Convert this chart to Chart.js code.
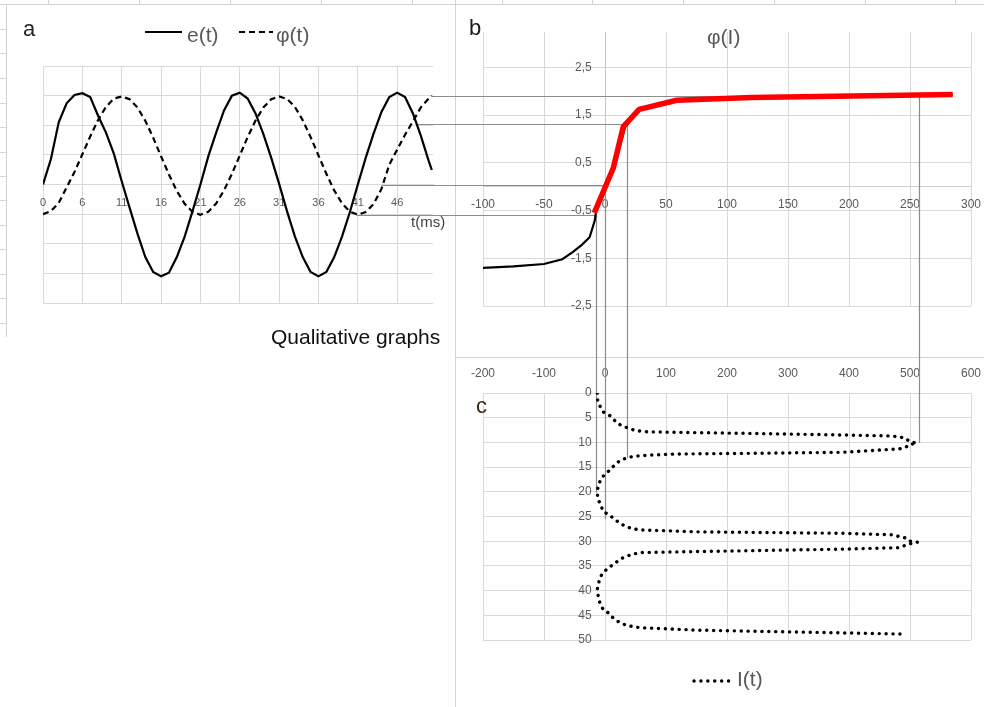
<!DOCTYPE html>
<html lang="en">
<head>
<meta charset="utf-8">
<title>Qualitative graphs</title>
<script src="https://cdn.jsdelivr.net/npm/chart.js@4.4.1/dist/chart.umd.min.js"></script>
<style>
  html, body { margin: 0; padding: 0; background: #fff; }
  #stage { position: relative; width: 984px; height: 707px; overflow: hidden; font-family: "Liberation Sans", Arial, sans-serif; }
  #stage canvas { position: absolute; }
  .cap { position: absolute; white-space: nowrap; }
</style>
</head>
<body>
<div id="stage">
  <canvas id="sheet" width="984" height="707" style="left:0;top:0"></canvas>
  <canvas id="chartA" width="455" height="345" style="left:0;top:0"></canvas>
  <canvas id="chartB" width="529" height="357" style="left:455px;top:0"></canvas>
  <canvas id="chartC" width="529" height="350" style="left:455px;top:357px"></canvas>
  <div class="cap" style="left:23px;top:18px;font-size:22px;line-height:22px;color:#262626">a</div>
  <div class="cap" style="left:469px;top:17px;font-size:22px;line-height:22px;color:#1a1a1a">b</div>
  <div class="cap" style="left:476px;top:395px;font-size:22px;line-height:22px;color:#3a2a10">c</div>
  <div class="cap" style="left:707px;top:26px;font-size:21px;line-height:21px;color:#595959">φ(I)</div>
  <div class="cap" style="left:411px;top:214px;font-size:15px;line-height:15px;color:#404040">t(ms)</div>
  <div class="cap" style="left:271px;top:326px;font-size:21px;line-height:21px;color:#111">Qualitative graphs</div>
</div>
<script>
// ---- panel a: e(t) and φ(t) on the sample index ----
const tIndex = [0,1,2,3,4,5,6,7,8,9,10,11,12,13,14,15,16,17,18,19,20,21,22,23,24,25,26,27,28,29,30,31,32,33,34,35,36,37,38,39,40,41,42,43,44,45,46,47,48,49,49.4];
const eValues = [0.00,0.85,2.10,2.74,3.02,3.08,2.95,2.32,1.75,1.04,0.11,-0.78,-1.66,-2.45,-2.95,-3.10,-2.98,-2.45,-1.76,-0.90,0.00,0.95,1.75,2.50,3.00,3.10,2.90,2.40,1.70,0.90,0.02,-0.90,-1.75,-2.45,-2.95,-3.10,-2.95,-2.45,-1.75,-0.92,0.00,0.90,1.72,2.45,2.95,3.10,2.95,2.40,1.65,0.80,0.49];
const phiValues = [-1.00,-0.90,-0.62,-0.10,0.42,1.02,1.62,2.18,2.62,2.90,2.97,2.88,2.60,2.15,1.58,0.95,0.34,-0.22,-0.65,-0.93,-1.02,-0.92,-0.64,-0.20,0.36,0.98,1.60,2.16,2.60,2.88,2.97,2.89,2.62,2.17,1.60,0.98,0.36,-0.20,-0.64,-0.92,-1.02,-0.93,-0.66,-0.15,0.67,1.18,1.68,2.13,2.60,2.90,2.99];
const tTickPos = [0,5,10,15,20,25,30,35,40,45];
const tTickLabels = ['0','6','11','16','21','26','31','36','41','46'];
const aLevels = [-4,-3,-2,-1,0,1,2,3,4];

// ---- panel b: φ(I) ----
const curveCurrent = [-100,-75,-50,-35,-26.5,-19,-12.6,-8.4,-7.5,7.8,16.5,28,58.7,120,285];
const curvePhi = [-1.70,-1.67,-1.62,-1.52,-1.37,-1.22,-1.06,-0.71,-0.55,0.42,1.25,1.62,1.81,1.87,1.93];
const activeCurrent = [-8.8,6.8,15,28,58.7,120,285];
const activePhi = [-0.55,0.39,1.26,1.62,1.81,1.87,1.93];
const bCurrentTicks = [-100,-50,0,50,100,150,200,250,300];
const bPhiTicks = [-2.5,-1.5,-0.5,0.5,1.5,2.5];

// ---- panel c: I(t) ----
const iTime = [0,1.5,3,3.9,4.6,5.7,6.55,7.1,7.5,7.7,7.85,7.96,8.2,8.5,8.7,9.1,9.7,10.2,10.4,10.9,11.3,12.0,12.2,12.35,12.6,12.8,13.1,13.56,14.4,15.45,16.5,17.3,18.5,19.8,21.3,22.7,24,24.7,25.6,26.4,27.1,27.5,27.7,28.1,28.4,28.7,29.4,30,30.2,30.6,31.3,31.6,32.1,32.3,32.8,33.5,34.2,35.2,36,36.8,37.9,39.7,41.2,42.6,43.9,44.5,45.3,46.3,47,47.3,47.5,48,48.4,48.8];
const iCurrent = [-12.6,-12,-7,-2.2,8.2,17,26,37.7,47.5,57,69,114,250,390,470,492,498,511,499,494,483,390,250,114,69,47.5,37,26,17,9.3,-0.5,-6,-10.4,-12.6,-12,-7,-2.7,7,16.4,24.6,35.5,46.4,57,150,390,470,494.6,500,512,497,483,390,150,57,41,27,19,8.2,0,-5.5,-9.3,-12.6,-11,-8.2,-2.7,5.5,11,22,34.4,46.4,57,150,320,492];
const cCurrentTicks = [-200,-100,0,100,200,300,400,500,600];
const cTimeTicks = [0,5,10,15,20,25,30,35,40,45,50];

// ---- projection lines a → b → c ----
const projK = [49.4, 47.4, 43.0, 39.8];
const projPhi = [2.99, 2.04, 0.0, -1.03];
const projI = [257, 18, 0, -7.6];
const projT = [10.1, 13.2, 25.5, 20.2];

const FONT = '"Liberation Sans", Arial, sans-serif';
const GRID = '#d9d9d9';
const TICK = '#595959';
// labels of an axis that crosses inside the plot sit a little off the axis line
const GAP = '    ';

const pairs = (xs, ys) => xs.map((x, i) => ({ x: x, y: ys[i] }));
const fixedTicks = values => scale => { scale.ticks = values.map(v => ({ value: v })); };
const noSidePadding = scale => { scale.paddingLeft = 0; scale.paddingRight = 0; };

// background worksheet lines
(function drawSheet() {
  const g = document.getElementById('sheet').getContext('2d');
  g.strokeStyle = '#d4d4d4';
  g.lineWidth = 1;
  const seg = (x1, y1, x2, y2) => { g.beginPath(); g.moveTo(x1, y1); g.lineTo(x2, y2); g.stroke(); };
  seg(0, 4.5, 984, 4.5);
  [48,139,230,321,412,502,592,683,774,865,955].forEach(x => seg(x + 0.5, 0, x + 0.5, 4.5));
  seg(6.5, 4, 6.5, 337);
  [29,53,78,103,127,152,176,200,225,249,274,298,323].forEach(y => seg(0, y + 0.5, 6.5, y + 0.5));
  seg(455.5, 0, 455.5, 707);
  seg(455, 357.5, 984, 357.5);
})();

const panels = {};

// projection lines: every panel draws its own share, under the data
const bridgePlugin = {
  id: 'bridges',
  beforeDatasetsDraw(chart, args, opts) {
    const A = panels.a, B = panels.b, C = panels.c;
    if (!A || !B || !C) return;
    const ctx = chart.ctx;
    ctx.save();
    ctx.translate(-opts.left, -opts.top);
    ctx.strokeStyle = opts.color;
    ctx.lineWidth = opts.width;
    projK.forEach((k, i) => {
      const x0 = A.left + A.chart.scales.x.getPixelForValue(k);
      const y0 = Math.round(A.top + A.chart.scales.y.getPixelForValue(projPhi[i])) + 0.5;
      const x1 = Math.round(B.left + B.chart.scales.x.getPixelForValue(projI[i])) + 0.5;
      const y1 = C.top + C.chart.scales.y.getPixelForValue(projT[i]);
      ctx.beginPath();
      ctx.moveTo(x0, y0);
      ctx.lineTo(x1, y0);
      ctx.lineTo(x1, y1);
      ctx.stroke();
    });
    ctx.restore();
  }
};

// legend keys drawn with each dataset's own stroke style
const keyPlugin = {
  id: 'keys',
  afterDatasetsDraw(chart, args, opts) {
    const ctx = chart.ctx;
    (opts.items || []).forEach(it => {
      const ds = chart.data.datasets[it.dataset];
      ctx.save();
      ctx.strokeStyle = ds.borderColor;
      ctx.lineWidth = ds.borderWidth;
      ctx.lineCap = ds.borderCapStyle || 'butt';
      ctx.setLineDash(ds.borderDash || []);
      ctx.beginPath();
      ctx.moveTo(it.x, it.y);
      ctx.lineTo(it.x + it.len, it.y);
      ctx.stroke();
      ctx.setLineDash([]);
      ctx.font = opts.font;
      ctx.fillStyle = opts.color;
      ctx.textBaseline = 'middle';
      ctx.textAlign = 'left';
      ctx.fillText(ds.label, it.textX, it.textY);
      ctx.restore();
    });
  }
};

const common = {
  responsive: false,
  animation: false,
  devicePixelRatio: 1,
  events: [],
  elements: { point: { radius: 0 }, line: { tension: 0 } }
};

const chartA = new Chart(document.getElementById('chartA'), {
  type: 'scatter',
  data: {
    datasets: [
      { label: 'e(t)', data: pairs(tIndex, eValues), showLine: true, borderColor: '#000', borderWidth: 2.2, pointRadius: 0 },
      { label: 'φ(t)', data: pairs(tIndex, phiValues), showLine: true, borderColor: '#000', borderWidth: 2.2, borderDash: [6, 4], pointRadius: 0 }
    ]
  },
  options: Object.assign({}, common, {
    layout: { padding: { left: 43, right: 22, top: 66, bottom: 42 } },
    plugins: {
      legend: { display: false },
      tooltip: { enabled: false },
      bridges: { left: 0, top: 0, color: '#8c8c8c', width: 1.2 },
      keys: {
        font: '21px ' + FONT, color: TICK,
        items: [
          { dataset: 0, x: 145, y: 32, len: 37, textX: 187, textY: 36 },
          { dataset: 1, x: 239, y: 32, len: 34, textX: 276, textY: 36 }
        ]
      }
    },
    scales: {
      x: {
        type: 'linear', position: { y: 0 }, min: 0, max: 49.55,
        afterBuildTicks: fixedTicks(tTickPos),
        afterFit: noSidePadding,
        ticks: { callback: v => tTickLabels[tTickPos.indexOf(v)], color: TICK, font: { family: FONT, size: 11 }, padding: 12, maxRotation: 0, autoSkip: false },
        grid: { color: GRID, drawTicks: false },
        border: { color: GRID }
      },
      y: {
        type: 'linear', position: { x: 0 }, min: -4, max: 4,
        afterBuildTicks: fixedTicks(aLevels),
        ticks: { display: false },
        grid: { color: GRID, drawTicks: false },
        border: { display: false }
      }
    }
  }),
  plugins: [bridgePlugin, keyPlugin]
});

const chartB = new Chart(document.getElementById('chartB'), {
  type: 'scatter',
  data: {
    datasets: [
      { label: 'φ(I) active', data: pairs(activeCurrent, activePhi), showLine: true, borderColor: '#ff0000', borderWidth: 5.5, borderJoinStyle: 'round', pointRadius: 0, order: 0 },
      { label: 'φ(I)', data: pairs(curveCurrent, curvePhi), showLine: true, borderColor: '#000', borderWidth: 2.2, pointRadius: 0, order: 1 }
    ]
  },
  options: Object.assign({}, common, {
    layout: { padding: { left: 28, right: 13, top: 32, bottom: 51 } },
    plugins: {
      legend: { display: false },
      tooltip: { enabled: false },
      bridges: { left: 455, top: 0, color: '#8c8c8c', width: 1.2 }
    },
    scales: {
      x: {
        type: 'linear', position: { y: 0 }, min: -100, max: 300,
        afterBuildTicks: fixedTicks(bCurrentTicks),
        afterFit: noSidePadding,
        ticks: { color: TICK, font: { family: FONT, size: 12 }, padding: 11, maxRotation: 0, autoSkip: false },
        grid: { color: GRID, drawTicks: false },
        border: { color: '#cfcfcf' }
      },
      y: {
        type: 'linear', position: { x: 0 }, min: -2.5, max: 3.24,
        afterBuildTicks: fixedTicks(bPhiTicks),
        ticks: { callback: v => String(v).replace('.', ',') + GAP, color: TICK, font: { family: FONT, size: 12 } },
        grid: { color: GRID, drawTicks: false },
        border: { color: '#c4c4c4' }
      }
    }
  }),
  plugins: [bridgePlugin]
});

const chartC = new Chart(document.getElementById('chartC'), {
  type: 'scatter',
  data: {
    datasets: [
      { label: 'I(t)', data: pairs(iCurrent, iTime), showLine: true, borderColor: '#000', borderWidth: 3.4, borderDash: [0.1, 6.8], borderCapStyle: 'round', pointRadius: 0 }
    ]
  },
  options: Object.assign({}, common, {
    layout: { padding: { left: 28, right: 13, top: 8, bottom: 67 } },
    plugins: {
      legend: { display: false },
      tooltip: { enabled: false },
      bridges: { left: 455, top: 357, color: '#8c8c8c', width: 1.2 },
      keys: {
        font: '21px ' + FONT, color: TICK,
        items: [ { dataset: 0, x: 239, y: 324, len: 37, textX: 282, textY: 323 } ]
      }
    },
    scales: {
      x: {
        type: 'linear', position: 'top', min: -200, max: 600,
        afterBuildTicks: fixedTicks(cCurrentTicks),
        afterFit: s => { s.height = 28; s.paddingLeft = 0; s.paddingRight = 0; },
        ticks: { color: TICK, font: { family: FONT, size: 12 }, padding: 12, maxRotation: 0, autoSkip: false },
        grid: { color: GRID, drawTicks: false },
        border: { color: GRID }
      },
      y: {
        type: 'linear', position: { x: 0 }, reverse: true, min: 0, max: 50,
        afterBuildTicks: fixedTicks(cTimeTicks),
        ticks: { callback: v => String(v) + GAP, color: TICK, font: { family: FONT, size: 12 } },
        grid: { color: GRID, drawTicks: false },
        border: { color: GRID }
      }
    }
  }),
  plugins: [bridgePlugin, keyPlugin]
});

panels.a = { chart: chartA, left: 0, top: 0 };
panels.b = { chart: chartB, left: 455, top: 0 };
panels.c = { chart: chartC, left: 455, top: 357 };
[chartA, chartB, chartC].forEach(c => c.draw());
</script>
</body>
</html>
